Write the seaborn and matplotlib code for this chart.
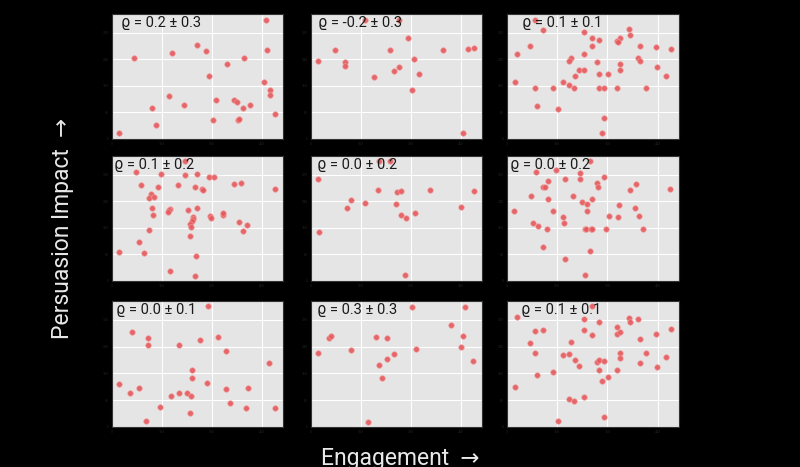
import matplotlib
matplotlib.use("Agg")
import matplotlib.pyplot as plt
from matplotlib.ticker import MaxNLocator
import seaborn as sns
import pandas as pd

# ---- data (engagement x, persuasion y) per panel, arbitrary units ----
p1_x = [462,467,255,282,179,65,396,346,291,458,475,475,171,313,367,376,121,216,416,394,490,304,379,382,131,22]
p1_y = [358,268,282,265,260,244,244,226,191,170,148,131,128,117,117,111,93,101,102,92,74,57,57,59,42,18]
p2_x = [266,163,292,71,238,396,471,490,22,103,103,311,265,249,326,188,305,458]
p2_y = [358,358,305,268,268,267,272,273,234,231,221,240,218,204,197,187,147,17]
p3_x = [84,107,230,364,367,253,276,337,329,331,68,253,398,444,490,30,230,192,184,390,398,268,337,449,214,230,337,203,276,303,475,23,168,184,84,138,199,276,291,330,414,91,153,291,283]
p3_y = [358,327,322,332,313,304,299,304,294,291,281,281,281,276,272,255,255,245,236,245,235,231,227,217,209,209,209,191,195,195,191,172,172,163,154,154,154,154,154,154,154,99,90,64,18]
p4_x = [219,72,146,218,255,291,306,87,139,197,248,270,274,368,387,489,116,110,125,121,124,174,170,167,227,255,242,242,241,295,299,333,335,233,238,383,405,394,233,110,80,95,21,252,175,248]
p4_y = [360,328,323,320,323,313,313,288,283,288,284,278,274,291,296,276,263,250,252,219,200,217,213,209,215,221,192,186,180,197,190,200,205,170,163,178,169,150,136,153,117,84,88,75,30,16]
p5_x = [205,238,22,200,259,272,359,490,121,161,108,254,272,287,313,451,24,283]
p5_y = [360,360,307,274,269,270,275,270,243,236,220,233,199,189,205,223,148,19]
p6_x = [247,86,145,218,291,123,174,218,269,273,386,368,487,108,115,72,196,123,255,225,240,335,382,20,138,240,305,332,393,166,79,170,94,119,232,236,250,254,295,405,109,247,174,232]
p6_y = [360,328,333,324,314,301,306,306,296,282,291,274,278,282,282,255,255,246,246,237,233,228,219,210,210,210,196,192,196,192,174,173,164,155,155,155,155,155,155,155,101,91,65,19]
p7_x = [288,60,107,107,202,264,319,344,473,241,241,286,21,54,82,177,200,224,236,343,410,355,143,404,489,234,102]
p7_y = [360,283,266,245,245,261,269,227,192,171,147,132,128,101,116,93,102,101,92,112,117,73,59,57,57,42,17]
p8_x = [305,464,422,54,59,194,227,458,20,119,316,450,249,228,205,488,214,172]
p8_y = [358,358,305,267,272,268,266,272,221,230,233,240,217,202,186,197,145,16]
p9_x = [30,253,230,276,364,369,391,84,107,230,330,330,337,253,444,490,68,192,398,84,168,184,337,337,414,475,203,268,276,291,215,398,449,276,330,138,91,303,283,23,184,199,230,153,291]
p9_y = [328,360,322,313,324,314,323,285,289,289,297,278,283,275,277,292,251,253,264,220,214,217,220,206,222,210,200,194,200,197,183,190,179,171,171,163,154,150,138,118,85,77,89,18,31]

rho_labels = ["ϱ = 0.2 ± 0.3", "ϱ = -0.2 ± 0.3", "ϱ = 0.1 ± 0.1",
              "ϱ = 0.1 ± 0.2", "ϱ = 0.0 ± 0.2", "ϱ = 0.0 ± 0.2",
              "ϱ = 0.0 ± 0.1", "ϱ = 0.3 ± 0.3", "ϱ = 0.1 ± 0.1"]
x_label = "Engagement  →"
y_label = "Persuasion Impact  →"

panels = [(p1_x, p1_y), (p2_x, p2_y), (p3_x, p3_y),
          (p4_x, p4_y), (p5_x, p5_y), (p6_x, p6_y),
          (p7_x, p7_y), (p8_x, p8_y), (p9_x, p9_y)]

sns.set_theme(style="darkgrid")
plt.rcParams['font.family'] = ['Roboto', 'DejaVu Sans']

fig = plt.figure(figsize=(8, 4.67), dpi=100)
fig.patch.set_facecolor("black")

W, H = 800, 467
cols = [(112, 283), (311, 482), (507, 679)]
rows = [(14, 139), (156, 281), (301, 427)]
text_dx = [0.05, 0.04, 0.09, 0.01, 0.035, 0.02, 0.025, 0.035, 0.08]

for i, (xs, ys) in enumerate(panels):
    r, c = divmod(i, 3)
    x0, x1 = cols[c]
    y0, y1 = rows[r]
    ax = fig.add_axes([x0 / W, 1 - y1 / H, (x1 - x0) / W, (y1 - y0) / H])
    df = pd.DataFrame({"x": xs, "y": ys})
    sns.scatterplot(data=df, x="x", y="y", ax=ax, color="#e5585c",
                    s=16, edgecolor="#f2a0a0", linewidth=0.5, alpha=0.9,
                    legend=False)
    ax.set_xlim(0, 514)
    ax.set_ylim(0, 376)
    ax.xaxis.set_major_locator(MaxNLocator(5))
    ax.yaxis.set_major_locator(MaxNLocator(6))
    ax.set_facecolor("#e5e5e5")
    ax.grid(True, color="white", linewidth=0.8)
    for s in ax.spines.values():
        s.set_visible(True)
        s.set_color("#333333")
        s.set_linewidth(0.8)
    ax.tick_params(axis="both", labelsize=2.5, colors="#222222", length=1.5,
                   width=0.5, pad=1)
    ax.set_xlabel("")
    ax.set_ylabel("")
    ax.text(text_dx[i], 0.93, rho_labels[i], transform=ax.transAxes,
            fontsize=10.5, color="#1a1a1a", va="center", ha="left",
            family=['Roboto', 'DejaVu Sans'])

fig.text(400 / W, 1 - 458 / H, x_label, color="#e8e8e8", fontsize=16.5,
         ha="center", va="center", family=['Roboto', 'DejaVu Sans'])
fig.text(63 / W, 1 - 228 / H, y_label, color="#e8e8e8", fontsize=16.5,
         ha="center", va="center", rotation=90,
         family=['Roboto', 'DejaVu Sans'])

fig.savefig("out.png", dpi=100, facecolor=fig.get_facecolor())
